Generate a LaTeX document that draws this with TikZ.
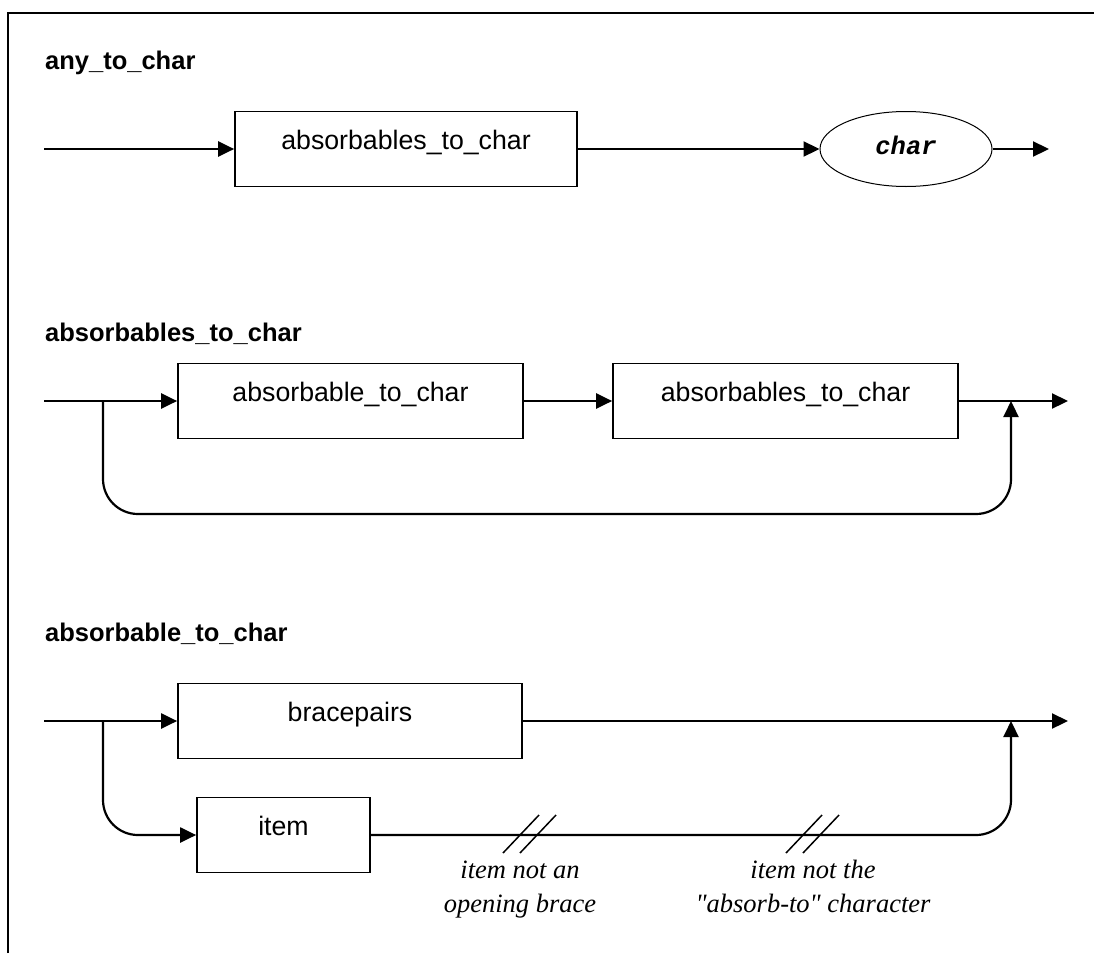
\documentclass[tikz,border=0pt]{standalone}
\usepackage{fontspec}
\setmainfont{Liberation Sans}
\newfontfamily\notefont{Liberation Serif}
\newfontfamily\codefont{Liberation Mono}
\usetikzlibrary{shapes.geometric,arrows.meta}

\begin{document}
\begin{tikzpicture}[x=1pt,y=-1pt,
  wire/.style={line width=2.2pt},
  flow/.style={wire,-{Triangle[length=16pt,width=15pt]}},
  rulename/.style={anchor=base west,inner sep=0pt,font=\fontsize{25.5}{30}\selectfont\bfseries},
  ntbox/.style={draw,line width=1.7pt,rectangle,inner sep=0pt,minimum height=75pt,
    font=\fontsize{26.7}{32}\selectfont,text height=13pt,text depth=13pt},
  term/.style={draw,line width=1pt,ellipse,inner sep=0pt,minimum width=172pt,minimum height=75pt,
    font=\fontsize{25.5}{30}\codefont\bfseries\itshape,text height=18pt,text depth=8pt},
  cond/.style={align=center,inner sep=0pt,anchor=base,
    font=\fontsize{26.5}{34}\notefont\itshape},
  slash/.style={line width=1.5pt}
]
\useasboundingbox (0,0) rectangle (1094,953);

% frame
\coordinate (fb) at (8,953);
\coordinate (fc) at (8,13);
\coordinate (fr) at (1094,13);
\draw[line width=1.7pt] (fb) -- (fc) -- (fr);

% ---------------- any_to_char ----------------
\node[rulename] (t1) at (45,69) {any\_to\_char};
\coordinate (s1) at (44,149);
\node[ntbox,minimum width=342pt] (r1) at (406,149) {absorbables\_to\_char};
\node[term] (c1) at (906,149) {char};
\coordinate (e1) at (1049,149);
\draw[flow] (s1) -- (r1.west);
\draw[flow] (r1.east) -- (c1.west);
\draw[flow] (c1.east) -- (e1);

% ---------------- absorbables_to_char ----------------
\node[rulename] (t2) at (45,341) {absorbables\_to\_char};
\coordinate (s2) at (44,401);
\coordinate (j2) at (103,401);
\node[ntbox,minimum width=345pt] (a2) at (350.5,401) {absorbable\_to\_char};
\node[ntbox,minimum width=345pt] (b2) at (785.5,401) {absorbables\_to\_char};
\coordinate (m2) at (1011,401);
\coordinate (e2) at (1068,401);
\coordinate (bl2) at (103,514);
\coordinate (br2) at (1011,514);
\draw[flow] (s2) -- (a2.west);
\draw[flow] (a2.east) -- (b2.west);
\draw[flow] (b2.east) -- (e2);
\draw[flow,rounded corners=35pt] (j2) -- (bl2) -- (br2) -- (m2);

% ---------------- absorbable_to_char ----------------
\node[rulename] (t3) at (45,641) {absorbable\_to\_char};
\coordinate (s3) at (44,721);
\coordinate (j3) at (103,721);
\node[ntbox,minimum width=344pt] (p3) at (350,721) {bracepairs};
\coordinate (m3) at (1011,721);
\coordinate (e3) at (1068,721);
\node[ntbox,minimum width=173pt] (i3) at (283.5,835) {item};
\draw[flow] (s3) -- (p3.west);
\draw[flow] (p3.east) -- (e3);
\draw[flow,rounded corners=35pt] (j3) |- (i3.west);
\draw[flow,rounded corners=35pt] (i3.east) -| (m3);

% exclusion marks on the item path
\foreach \cx in {521,538,804,821}
  \draw[slash] (\cx-18,853) -- (\cx+18,815);

% the base anchor of a two-line note sits on its last line
\node[cond] (n1) at (520,912) {item not an\\opening brace};
\node[cond] (n2) at (813,912) {item not the\\"absorb-to" character};
\end{tikzpicture}
\end{document}
